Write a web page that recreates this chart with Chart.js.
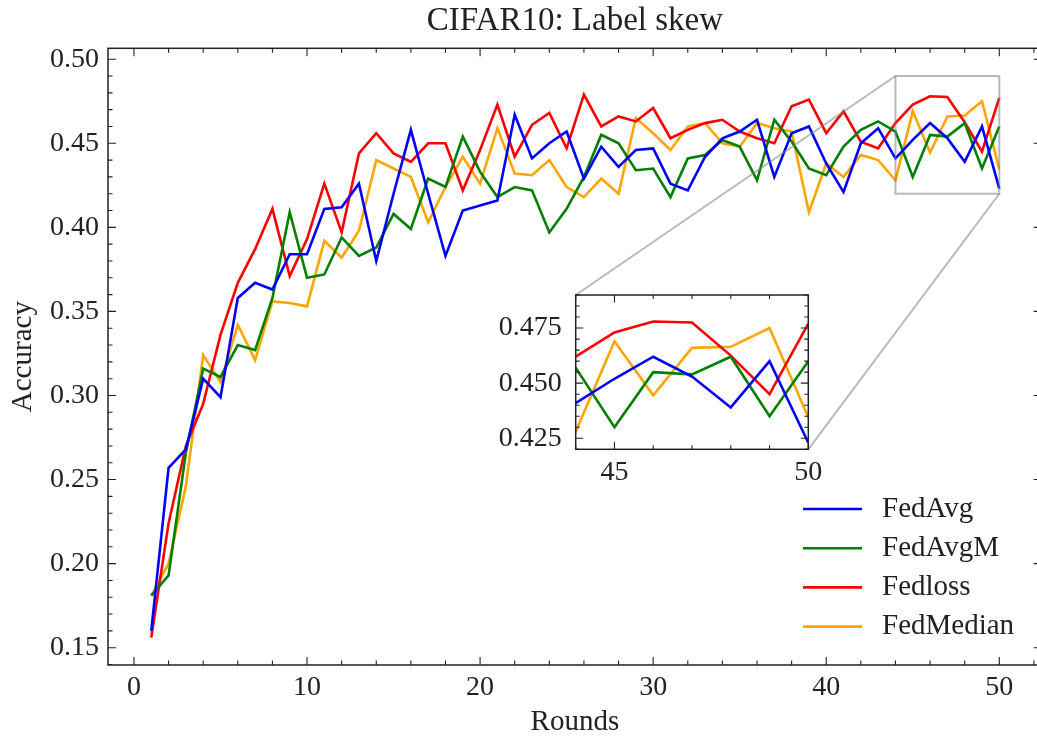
<!DOCTYPE html>
<html>
<head>
<meta charset="utf-8">
<title>CIFAR10: Label skew</title>
<script src="https://cdn.jsdelivr.net/npm/chart.js@4.4.1/dist/chart.umd.min.js"></script>
<style>
  html, body { margin: 0; padding: 0; overflow: hidden; background: #fff; }
  #wrap { position: relative; width: 1045px; height: 738px; }
  #mainBox { position: absolute; left: 0; top: 0; width: 1045px; height: 738px; }
  #insetBox { position: absolute; left: 495px; top: 290px; width: 330px; height: 200px; }
</style>
</head>
<body>
<div id="wrap">
  <div id="mainBox"><canvas id="mainChart"></canvas></div>
  <div id="insetBox"><canvas id="insetChart"></canvas></div>
</div>
<script>
// --- data ---
const rounds = [1, 2, 3, 4, 5, 6, 7, 8, 9, 10, 11, 12, 13, 14, 15, 16, 17, 18, 19, 20,
  21, 22, 23, 24, 25, 26, 27, 28, 29, 30, 31, 32, 33, 34, 35, 36, 37, 38, 39, 40,
  41, 42, 43, 44, 45, 46, 47, 48, 49, 50];

const fedAvg = [0.160, 0.257, 0.268, 0.310, 0.299, 0.358, 0.367, 0.363, 0.384, 0.384,
  0.411, 0.412, 0.426, 0.380, 0.420, 0.458, 0.420, 0.383, 0.410, 0.413,
  0.416, 0.467, 0.441, 0.450, 0.457, 0.429, 0.448, 0.436, 0.446, 0.447,
  0.426, 0.422, 0.442, 0.453, 0.457, 0.464, 0.430, 0.456, 0.460, 0.438,
  0.421, 0.450, 0.459, 0.441, 0.452, 0.462, 0.453, 0.439, 0.460, 0.423];

const fedAvgM = [0.181, 0.193, 0.266, 0.316, 0.311, 0.330, 0.327, 0.358, 0.409, 0.370,
  0.372, 0.394, 0.383, 0.388, 0.408, 0.399, 0.429, 0.424, 0.454, 0.433,
  0.418, 0.424, 0.422, 0.397, 0.411, 0.430, 0.455, 0.450, 0.434, 0.435,
  0.418, 0.441, 0.443, 0.452, 0.448, 0.428, 0.464, 0.451, 0.435, 0.431,
  0.448, 0.458, 0.463, 0.457, 0.430, 0.455, 0.454, 0.462, 0.435, 0.460];

const fedLoss = [0.156, 0.224, 0.270, 0.295, 0.336, 0.367, 0.387, 0.411, 0.371, 0.393,
  0.426, 0.397, 0.444, 0.456, 0.444, 0.439, 0.450, 0.450, 0.422, 0.446,
  0.473, 0.442, 0.461, 0.468, 0.447, 0.479, 0.460, 0.466, 0.463, 0.471,
  0.453, 0.458, 0.462, 0.464, 0.457, 0.453, 0.450, 0.472, 0.476, 0.456,
  0.469, 0.451, 0.447, 0.462, 0.473, 0.478, 0.4775, 0.4625, 0.445, 0.477];

const fedMedian = [0.181, 0.200, 0.246, 0.324, 0.308, 0.342, 0.321, 0.356, 0.355, 0.353,
  0.392, 0.382, 0.398, 0.440, 0.435, 0.430, 0.403, 0.424, 0.442, 0.426,
  0.459, 0.432, 0.431, 0.440, 0.424, 0.418, 0.429, 0.420, 0.465, 0.456,
  0.446, 0.460, 0.462, 0.450, 0.448, 0.462, 0.459, 0.457, 0.409, 0.438,
  0.430, 0.443, 0.440, 0.428, 0.469, 0.4445, 0.466, 0.4665, 0.475, 0.4345];

const seriesNames = ['FedAvg', 'FedAvgM', 'Fedloss', 'FedMedian'];
const seriesValues = [fedAvg, fedAvgM, fedLoss, fedMedian];
const seriesColors = ['#0000ff', '#008000', '#ff0000', '#ffa500'];

const xTickValues = [0, 10, 20, 30, 40, 50];
const yTickValues = [0.15, 0.20, 0.25, 0.30, 0.35, 0.40, 0.45, 0.50];
const insetXTickValues = [45, 50];
const insetYTickValues = [0.425, 0.450, 0.475];

const SERIF = "'Liberation Serif', 'Times New Roman', serif";
const INK = '#222';
const LINE_W = 2.6;

function makeDatasets(clip) {
  return seriesNames.map((name, i) => ({
    label: name,
    data: rounds.map((r, j) => ({ x: r, y: seriesValues[i][j] })),
    borderColor: seriesColors[i],
    backgroundColor: seriesColors[i],
    borderWidth: LINE_W,
    pointRadius: 0,
    tension: 0,
    clip: clip
  }));
}

// keep the plot box where I put it (no extra room for edge labels)
function noPadX(s, h) { s.height = h; s.paddingLeft = 0; s.paddingRight = 0; }
function noPadY(s, w) { s.width = w; s.paddingTop = 0; s.paddingBottom = 0; }

// inward ticks on every side + the frame (matplotlib/scienceplots look)
const frameTicks = {
  id: 'frameTicks',
  afterDraw(chart, args, opts) {
    const { ctx, chartArea: a, scales: { x, y } } = chart;
    ctx.save();
    ctx.strokeStyle = INK;
    ctx.lineWidth = 1.1;
    ctx.beginPath();
    const seg = (x0, y0, x1, y1) => { ctx.moveTo(x0, y0); ctx.lineTo(x1, y1); };
    for (let k = Math.ceil(x.min / opts.xMinor - 1e-9); k * opts.xMinor <= x.max + 1e-9; k++) {
      const px = x.getPixelForValue(k * opts.xMinor);
      seg(px, a.bottom, px, a.bottom - opts.minorLen);
      seg(px, a.top, px, a.top + opts.minorLen);
    }
    for (let k = Math.ceil(y.min / opts.yMinor - 1e-9); k * opts.yMinor <= y.max + 1e-9; k++) {
      const py = y.getPixelForValue(k * opts.yMinor);
      seg(a.left, py, a.left + opts.minorLen, py);
      seg(a.right, py, a.right - opts.minorLen, py);
    }
    x.ticks.forEach(t => {
      const px = x.getPixelForValue(t.value);
      seg(px, a.bottom, px, a.bottom - opts.majorLen);
      seg(px, a.top, px, a.top + opts.majorLen);
    });
    y.ticks.forEach(t => {
      const py = y.getPixelForValue(t.value);
      seg(a.left, py, a.left + opts.majorLen, py);
      seg(a.right, py, a.right - opts.majorLen, py);
    });
    ctx.stroke();
    ctx.lineWidth = 1.5;
    ctx.strokeRect(a.left, a.top, a.right - a.left, a.bottom - a.top);
    ctx.restore();
  }
};

// white face for the inset axes
const whiteFace = {
  id: 'whiteFace',
  beforeDatasetsDraw(chart) {
    const { ctx, chartArea: a } = chart;
    ctx.save();
    ctx.fillStyle = '#fff';
    ctx.fillRect(a.left, a.top, a.right - a.left, a.bottom - a.top);
    ctx.restore();
  }
};

// --- INSET ---
const insetChart = new Chart(document.getElementById('insetChart'), {
  type: 'line',
  data: { datasets: makeDatasets(0) },
  options: {
    responsive: true,
    maintainAspectRatio: false,
    animation: false,
    layout: { padding: { left: 0, top: 5, right: 16.7, bottom: 0 } },
    plugins: {
      legend: { display: false },
      tooltip: { enabled: false },
      frameTicks: { xMinor: 1, yMinor: 0.005, majorLen: 7.5, minorLen: 4 }
    },
    scales: {
      x: {
        type: 'linear', min: 44, max: 50,
        grid: { display: false, drawTicks: false },
        border: { display: false },
        afterBuildTicks: s => { s.ticks = insetXTickValues.map(v => ({ value: v })); },
        afterFit: s => noPadX(s, 40.7),
        ticks: { color: INK, font: { family: SERIF, size: 28 }, padding: 7, maxRotation: 0, autoSkip: false }
      },
      y: {
        min: 0.42, max: 0.49,
        grid: { display: false, drawTicks: false },
        border: { display: false },
        afterBuildTicks: s => { s.ticks = insetYTickValues.map(v => ({ value: v })); },
        afterFit: s => noPadY(s, 80.7),
        ticks: { color: INK, font: { family: SERIF, size: 28 }, padding: 14, autoSkip: false,
          callback: v => Number(v).toFixed(3) }
      }
    }
  },
  plugins: [whiteFace, frameTicks]
});

// zoom box on the main axes + connector lines to the inset corners
const zoomMarks = {
  id: 'zoomMarks',
  afterDatasetsDraw(chart) {
    const { ctx, scales: { x, y } } = chart;
    const ix = insetChart.scales.x, iy = insetChart.scales.y;
    const ia = insetChart.chartArea;
    const box = document.getElementById('insetBox');
    const ox = box.offsetLeft, oy = box.offsetTop;
    const x0 = x.getPixelForValue(ix.min), x1 = x.getPixelForValue(ix.max);
    const y0 = y.getPixelForValue(iy.max), y1 = y.getPixelForValue(iy.min);
    ctx.save();
    ctx.strokeStyle = 'rgba(128,128,128,0.55)';
    ctx.lineWidth = 2;
    ctx.strokeRect(x0, y0, x1 - x0, y1 - y0);
    ctx.beginPath();
    ctx.moveTo(x0, y0); ctx.lineTo(ox + ia.left, oy + ia.top);
    ctx.moveTo(x1, y1); ctx.lineTo(ox + ia.right, oy + ia.bottom);
    ctx.stroke();
    ctx.restore();
  }
};

// legend in the lower right, no frame
const cornerLegend = {
  id: 'cornerLegend',
  afterDraw(chart) {
    const { ctx } = chart;
    ctx.save();
    ctx.font = '29px ' + SERIF;
    ctx.textBaseline = 'middle';
    ctx.textAlign = 'left';
    chart.data.datasets.forEach((ds, i) => {
      const yy = 509 + i * 39.2;
      ctx.strokeStyle = ds.borderColor;
      ctx.lineWidth = LINE_W;
      ctx.beginPath();
      ctx.moveTo(803, yy); ctx.lineTo(862, yy);
      ctx.stroke();
      ctx.fillStyle = INK;
      ctx.fillText(ds.label, 882, yy);
    });
    ctx.restore();
  }
};

// --- MAIN ---
new Chart(document.getElementById('mainChart'), {
  type: 'line',
  data: { datasets: makeDatasets(undefined) },
  options: {
    responsive: true,
    maintainAspectRatio: false,
    animation: false,
    layout: { padding: { left: 0, top: 0, right: 3.3, bottom: 0 } },
    plugins: {
      legend: { display: false },
      tooltip: { enabled: false },
      title: {
        display: true,
        text: 'CIFAR10: Label skew',
        color: INK,
        fullSize: false,
        font: { family: SERIF, size: 33, weight: 'normal', lineHeight: 1.2 },
        padding: { top: 2, bottom: 6.7 }
      },
      frameTicks: { xMinor: 2, yMinor: 0.01, majorLen: 8, minorLen: 4.5 }
    },
    scales: {
      x: {
        type: 'linear', min: -1.5, max: 52.45,
        grid: { display: false, drawTicks: false },
        border: { display: false },
        afterBuildTicks: s => { s.ticks = xTickValues.map(v => ({ value: v })); },
        afterFit: s => noPadX(s, 73),
        ticks: { color: INK, font: { family: SERIF, size: 28 }, padding: 6, maxRotation: 0, autoSkip: false },
        title: { display: true, text: 'Rounds', color: INK,
          font: { family: SERIF, size: 29, lineHeight: 1 }, padding: { top: 0, bottom: 1.5 } }
      },
      y: {
        min: 0.1397, max: 0.5065,
        grid: { display: false, drawTicks: false },
        border: { display: false },
        afterBuildTicks: s => { s.ticks = yTickValues.map(v => ({ value: v })); },
        afterFit: s => noPadY(s, 108),
        ticks: { color: INK, font: { family: SERIF, size: 28 }, padding: 9, autoSkip: false,
          callback: v => Number(v).toFixed(2) },
        title: { display: true, text: 'Accuracy', color: INK,
          font: { family: SERIF, size: 29, lineHeight: 1 }, padding: { top: 8.5, bottom: 0 } }
      }
    }
  },
  plugins: [zoomMarks, frameTicks, cornerLegend]
});
</script>
</body>
</html>
